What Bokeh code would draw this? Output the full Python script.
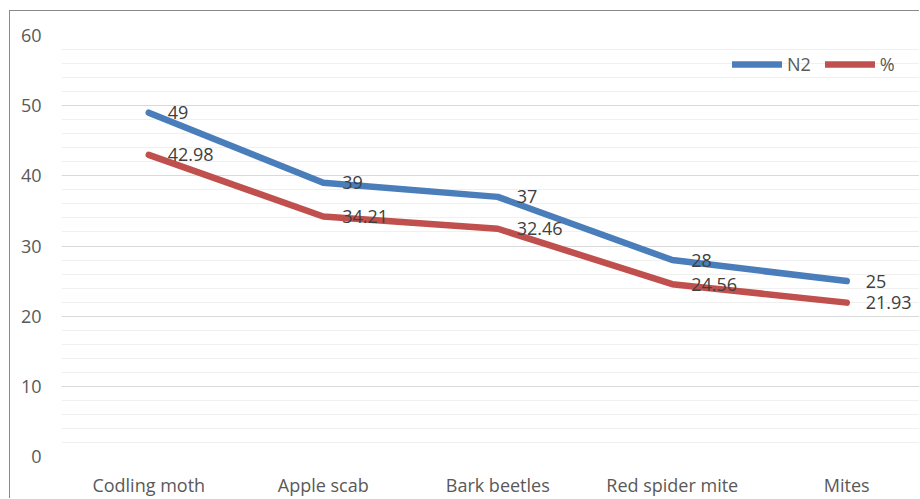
from bokeh.plotting import figure
from bokeh.models import Range1d, SingleIntervalTicker, FixedTicker, ColumnDataSource, Legend, LegendItem
from bokeh.core.properties import value
from bokeh.embed import file_html
from bokeh.resources import INLINE

categories = ["Codling moth", "Apple scab", "Bark beetles", "Red spider mite", "Mites"]
n2_values = [49, 39, 37, 28, 25]
pct_values = [42.98, 34.21, 32.46, 24.56, 21.93]
series_names = ["N2", "%"]

FONT = "Open Sans"
BLUE = "#4a7ebb"
RED = "#c0504d"

xs = list(range(len(categories)))

p = figure(width=910, height=488, output_backend="svg", toolbar_location=None,
           x_range=Range1d(-0.5, 859 / 174.5 - 0.5), y_range=Range1d(0, 60),
           min_border_left=51, min_border_right=0, min_border_top=24, min_border_bottom=43)
p.styles = {"margin-left": "9px", "margin-top": "10px",
            "border-left": "1px solid #8a8a8a", "border-top": "1px solid #8a8a8a"}
p.outline_line_color = None
p.background_fill_color = "white"
p.border_fill_color = "white"

# axes
p.yaxis.ticker = SingleIntervalTicker(interval=10, num_minor_ticks=5)
p.yaxis.axis_line_color = None
p.yaxis.major_tick_line_color = None
p.yaxis.minor_tick_line_color = None
p.yaxis.major_label_standoff = 14
p.yaxis.major_label_text_font = FONT
p.yaxis.major_label_text_font_size = "18px"
p.yaxis.major_label_text_color = "#595959"

p.xaxis.ticker = FixedTicker(ticks=xs)
p.xaxis.major_label_overrides = {i: c for i, c in enumerate(categories)}
p.xaxis.axis_line_color = None
p.xaxis.major_tick_line_color = None
p.xaxis.minor_tick_line_color = None
p.xaxis.major_label_standoff = 10
p.xaxis.major_label_text_font = FONT
p.xaxis.major_label_text_font_size = "18px"
p.xaxis.major_label_text_color = "#595959"

p.xgrid.grid_line_color = None
p.ygrid.grid_line_color = "#d9d9d9"
p.ygrid.minor_grid_line_color = "#f0f0f0"

src = ColumnDataSource(dict(
    x=xs, n2=n2_values, pct=pct_values,
    n2_lbl=[str(v) for v in n2_values],
    pct_lbl=[f"{v:.2f}" for v in pct_values],
))

r1 = p.line("x", "n2", source=src, line_color=BLUE, line_width=6.5, line_cap="round", line_join="round")
r2 = p.line("x", "pct", source=src, line_color=RED, line_width=6.5, line_cap="round", line_join="round")

for col, ycol in (("n2_lbl", "n2"), ("pct_lbl", "pct")):
    p.text(x="x", y=ycol, text=col, source=src, x_offset=19, text_baseline="middle", text_align="left",
           text_font=value(FONT), text_font_size="18px", text_color="#404040")

legend = Legend(items=[LegendItem(label=series_names[0], renderers=[r1]),
                       LegendItem(label=series_names[1], renderers=[r2])],
                orientation="horizontal", location=(671, 380))
legend.glyph_width = 50
legend.glyph_height = 20
legend.label_height = 20
legend.label_standoff = 5
legend.spacing = 14
legend.padding = 0
legend.margin = 0
legend.border_line_color = None
legend.background_fill_alpha = 0
legend.label_text_font = FONT
legend.label_text_font_size = "18px"
legend.label_text_color = "#595959"
p.add_layout(legend, "center")

open("out.html", "w").write(file_html(p, INLINE))
